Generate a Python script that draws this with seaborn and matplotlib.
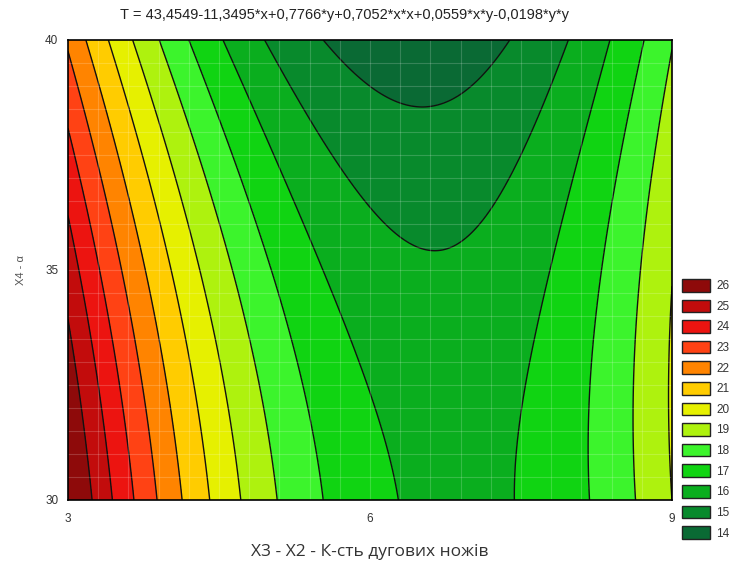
import numpy as np
import matplotlib
matplotlib.use("Agg")
import matplotlib.pyplot as plt
from matplotlib.patches import Patch
from matplotlib.colors import ListedColormap, BoundaryNorm
import seaborn as sns

# Regression surface shown in the chart title
title_text = "T = 43,4549-11,3495*x+0,7766*y+0,7052*x*x+0,0559*x*y-0,0198*y*y"
coef_names = ["1", "x", "y", "x*x", "x*y", "y*y"]
coef_values = [43.4549, -11.3495, 0.7766, 0.7052, 0.0559, -0.0198]

x_range = [3, 9]
y_range = [30, 40]
x_ticks = [3, 6, 9]
y_ticks = [30, 35, 40]

# Level boundaries (legend labels are the upper bounds of each band)
level_bounds = [12, 14, 15, 16, 17, 18, 19, 20, 21, 22, 23, 24, 25, 28]
legend_labels = ["14", "15", "16", "17", "18", "19", "20", "21", "22", "23", "24", "25", "26"]
band_colors = ["#0a6a34", "#088a2c", "#0aae1e", "#10d412", "#3cf42c", "#aef20e",
               "#e6f000", "#ffcc00", "#ff8400", "#ff4214", "#ec1410", "#c20c0c", "#8e0a0a"]

x_label = "X3 - X2 - К-сть дугових ножів"
y_label = "X4 - α"

sns.set_theme(style="white")
plt.rcParams["font.family"] = ["Liberation Sans", "DejaVu Sans"]

W, H = 739, 571
fig = plt.figure(figsize=(W / 100, H / 100), dpi=100)
ax = fig.add_axes([68 / W, 1 - 500 / H, 604 / W, 460 / H])

xs = np.linspace(x_range[0], x_range[1], 300)
ys = np.linspace(y_range[0], y_range[1], 300)
X, Y = np.meshgrid(xs, ys)
b0, bx, by, bxx, bxy, byy = coef_values
Z = b0 + bx * X + by * Y + bxx * X * X + bxy * X * Y + byy * Y * Y

cmap = ListedColormap(band_colors)
norm = BoundaryNorm(level_bounds, cmap.N)
ax.contourf(X, Y, Z, levels=level_bounds, cmap=cmap, norm=norm)
ax.contour(X, Y, Z, levels=level_bounds[1:-1], colors="#111111", linewidths=1.0)

# faint mesh lines as in the original rendering
for gx in np.linspace(x_range[0], x_range[1], 21)[1:-1]:
    ax.axvline(gx, color="white", lw=0.8, alpha=0.18)
for gy in np.linspace(y_range[0], y_range[1], 21)[1:-1]:
    ax.axhline(gy, color="white", lw=0.8, alpha=0.18)

ax.set_xlim(x_range)
ax.set_ylim(y_range)
ax.set_xticks(x_ticks)
ax.set_yticks(y_ticks)
ax.tick_params(axis="both", length=0, labelsize=8.5, colors="#333333")
ax.tick_params(axis="x", pad=9)
ax.tick_params(axis="y", pad=7)
for s in ax.spines.values():
    s.set_color("black")
    s.set_linewidth(1.2)
    s.set_visible(True)

ax.set_xlabel(x_label, fontsize=12.5, color="#333333", family=["Open Sans", "DejaVu Sans"], labelpad=14)
ax.set_ylabel(y_label, fontsize=8, color="#555555", labelpad=14)

fig.text(345 / W, 1 - 15 / H, title_text, ha="center", va="center",
         fontsize=10.5, color="#222222")

handles = [Patch(facecolor=c, edgecolor="#222222", linewidth=1.0) for c in band_colors[::-1]]
leg = fig.legend(handles, legend_labels[::-1], loc="upper left",
                 bbox_to_anchor=(682 / W, 1 - 279 / H), frameon=False,
                 fontsize=8.5, handlelength=2.35, handleheight=1.27,
                 labelspacing=0.62, handletextpad=0.55, borderpad=0.0, borderaxespad=0.0)
for t in leg.get_texts():
    t.set_color("#333333")

fig.savefig("out.png", dpi=100)
